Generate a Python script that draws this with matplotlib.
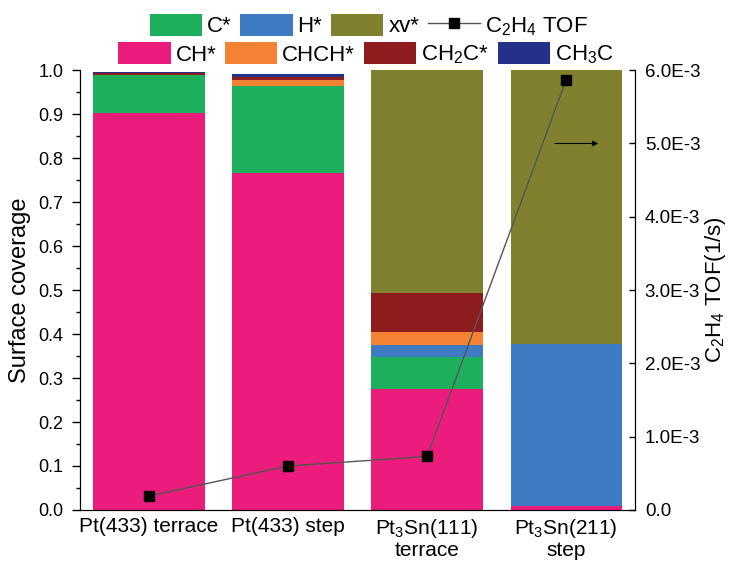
import numpy as np
import matplotlib
matplotlib.use("Agg")
import matplotlib.pyplot as plt
from matplotlib.patches import Patch
from matplotlib.lines import Line2D
from matplotlib.ticker import FuncFormatter, MultipleLocator

plt.rcParams["font.family"] = ["Liberation Sans", "DejaVu Sans"]
plt.rcParams["mathtext.fontset"] = "custom"
plt.rcParams["mathtext.rm"] = "Liberation Sans"
plt.rcParams["mathtext.it"] = "Liberation Sans"

# ------------------------------------------------------------------ #
# data
# ------------------------------------------------------------------ #
categories = ["Pt(433) terrace", "Pt(433) step",
              "Pt$_3$Sn(111)\nterrace", "Pt$_3$Sn(211)\nstep"]

ch   = [0.902, 0.766, 0.275, 0.010]
c    = [0.088, 0.199, 0.073, 0.0]
h    = [0.0,   0.0,   0.027, 0.368]
chch = [0.0,   0.013, 0.030, 0.0]
ch2c = [0.004, 0.006, 0.088, 0.0]
ch3c = [0.002, 0.008, 0.0,   0.0]
xv   = [0.0,   0.0,   0.507, 0.622]

tof = [0.19e-3, 0.60e-3, 0.73e-3, 5.87e-3]

species = [
    ("CH*",        ch,   "#EC1C7C"),
    ("C*",         c,    "#1DAF5C"),
    ("H*",         h,    "#3F7BC3"),
    ("CHCH*",      chch, "#F58232"),
    ("CH$_2$C*",   ch2c, "#8E1B1E"),
    ("CH$_3$C",    ch3c, "#243189"),
    ("xv*",        xv,   "#80812F"),
]
colors = {name: col for name, _, col in species}

# ------------------------------------------------------------------ #
# figure
# ------------------------------------------------------------------ #
fig = plt.figure(figsize=(7.35, 5.66), dpi=100)
ax = fig.add_axes([0.109, 0.099, 0.755, 0.777])

x = np.arange(len(categories))
bottom = np.zeros(len(categories))
for name, vals, col in species:
    vals = np.array(vals)
    ax.bar(x, vals, width=0.8, bottom=bottom, color=col, edgecolor="none")
    bottom += vals

ax.set_xlim(-0.495, 3.495)
ax.set_ylim(0, 1.0)
ax.yaxis.set_major_locator(MultipleLocator(0.1))
ax.yaxis.set_minor_locator(MultipleLocator(0.05))
ax.yaxis.set_major_formatter(FuncFormatter(lambda v, p: f"{v:.1f}"))
ax.tick_params(axis="y", which="major", length=6, width=1, labelsize=13, pad=6)
ax.tick_params(axis="y", which="minor", length=3, width=1)
ax.set_xticks(x)
ax.set_xticklabels(categories, fontsize=15, linespacing=1.05)
ax.tick_params(axis="x", length=0, pad=5)
ax.set_ylabel("Surface coverage", fontsize=17, labelpad=5)
ax.spines["top"].set_visible(False)

# TOF on the right axis
ax2 = ax.twinx()
ax2.plot(x, tof, "-", color="#555555", lw=1.0, marker="s",
         markersize=7, markerfacecolor="black", markeredgecolor="black")
ax2.set_ylim(0, 6.0e-3)
ax2.yaxis.set_major_locator(MultipleLocator(1.0e-3))
ax2.yaxis.set_major_formatter(
    FuncFormatter(lambda v, p: "0.0" if abs(v) < 1e-12 else f"{v * 1e3:.1f}E-3"))
ax2.tick_params(axis="y", direction="in", length=4, width=1, labelsize=13.5, pad=7)
ax2.set_ylabel("C$_2$H$_4$ TOF(1/s)", fontsize=16, labelpad=2)
ax2.spines["top"].set_visible(False)
ax2.annotate("", xy=(3.25, 5.0e-3), xytext=(2.9, 5.0e-3),
             arrowprops=dict(arrowstyle="-|>", color="black", lw=0.8,
                             mutation_scale=8))

# legends: two rows above the plot
row1 = [Patch(facecolor=colors["C*"], label="C*"),
        Patch(facecolor=colors["H*"], label="H*"),
        Patch(facecolor=colors["xv*"], label="xv*"),
        Line2D([0], [0], color="#555555", lw=1.0, marker="s", markersize=7,
               markerfacecolor="black", markeredgecolor="black",
               label="C$_2$H$_4$ TOF")]
row2 = [Patch(facecolor=colors["CH*"], label="CH*"),
        Patch(facecolor=colors["CHCH*"], label="CHCH*"),
        Patch(facecolor=colors["CH$_2$C*"], label="CH$_2$C*"),
        Patch(facecolor=colors["CH$_3$C"], label="CH$_3$C")]

common = dict(frameon=False, ncol=4, fontsize=16, handlelength=2.35,
              handleheight=1.13, handletextpad=0.22, columnspacing=0.4,
              borderaxespad=0, borderpad=0)
leg1 = fig.legend(handles=row1, loc="center", bbox_to_anchor=(0.502, 0.954),
                  **common)
leg2 = fig.legend(handles=row2, loc="center", bbox_to_anchor=(0.498, 0.904),
                  **common)

fig.savefig("out.png", dpi=100)
